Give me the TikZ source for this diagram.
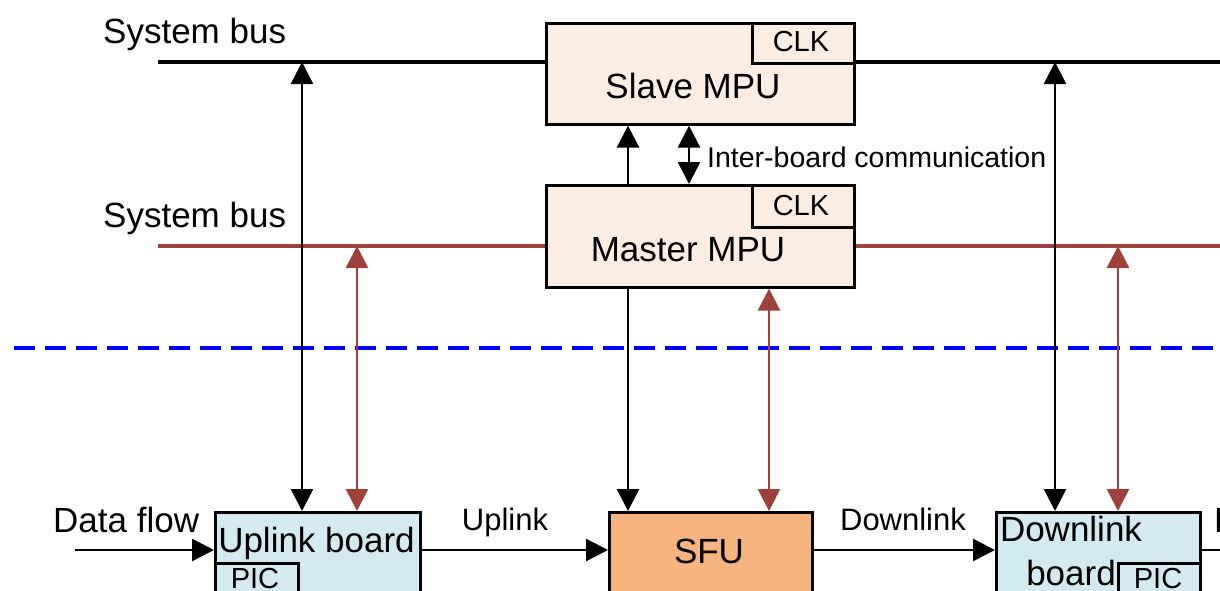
\documentclass[tikz,border=0pt]{standalone}
\usepackage{fontspec}
\setmainfont{Liberation Sans}
\usetikzlibrary{arrows.meta}
\definecolor{busred}{HTML}{A0403A}
\definecolor{mpufill}{HTML}{FCEDE3}
\definecolor{boardfill}{HTML}{D2EAF0}
\definecolor{sfufill}{HTML}{F8B47E}
\definecolor{sepblue}{HTML}{0000FF}
\tikzset{
  box/.style={draw=black, line width=2.6pt, inner sep=0pt, anchor=north west},
  bigtxt/.style={inner sep=0pt, font=\fontsize{35}{42}\selectfont},
  midtxt/.style={inner sep=0pt, font=\fontsize{31}{37}\selectfont},
  smalltxt/.style={inner sep=0pt, font=\fontsize{29}{35}\selectfont},
  commtxt/.style={inner sep=0pt, font=\fontsize{28.5}{34}\selectfont},
  blackbus/.style={draw=black, line width=4.2pt},
  redbus/.style={draw=busred, line width=4.2pt},
  link/.style={draw=black, line width=2.6pt},
  redlink/.style={draw=busred, line width=2.6pt},
  onetip/.style={-{Triangle[length=22pt,width=22pt]}},
  twotips/.style={{Triangle[length=22pt,width=22pt]}-{Triangle[length=22pt,width=22pt]}}
}
\begin{document}
\begin{tikzpicture}[x=1pt,y=-1pt]
\useasboundingbox (0,0) rectangle (1220,590);
\clip (0,0) rectangle (1220,590);

% bus end points and tap points
\coordinate (tbL) at (158,62);
\coordinate (tbR) at (1220,62);
\coordinate (rbL) at (158,246);
\coordinate (rbR) at (1220,246);
\coordinate (tapA) at (302,62);
\coordinate (tapB) at (357,246);
\coordinate (tapC) at (1055,62);
\coordinate (tapD) at (1118,246);
\coordinate (sepL) at (14,348);
\coordinate (sepR) at (1220,348);
\coordinate (dfin) at (75,550);
\coordinate (dfout) at (1220,550);

% processor boards
\node[box, fill=mpufill, minimum width=308pt, minimum height=101pt] (slave) at (545,22) {};
\node[box, fill=mpufill, minimum width=102pt, minimum height=40pt] (clkS) at (751,22) {};
\node[box, fill=mpufill, minimum width=308pt, minimum height=102pt] (master) at (545,184) {};
\node[box, fill=mpufill, minimum width=102pt, minimum height=42pt] (clkM) at (751,184) {};

% line cards
\node[box, fill=boardfill, minimum width=205pt, minimum height=110pt] (upl) at (214,511) {};
\node[box, fill=boardfill, minimum width=83pt, minimum height=60pt] (picU) at (214,562) {};
\node[box, fill=sfufill, minimum width=203pt, minimum height=110pt] (sfu) at (608,511) {};
\node[box, fill=boardfill, minimum width=204pt, minimum height=110pt] (dnl) at (995,511) {};
\node[box, fill=boardfill, minimum width=82pt, minimum height=60pt] (picD) at (1117,562) {};

% system buses
\draw[blackbus] (tbL) -- (slave.west |- tbL);
\draw[blackbus] (slave.east |- tbR) -- (tbR);
\draw[redbus] (rbL) -- (master.west |- rbL);
\draw[redbus] (master.east |- rbR) -- (rbR);

% separator
\draw[sepblue, line width=3.5pt, dash pattern=on 21pt off 10pt] (sepL) -- (sepR);

% bus to board connections
\draw[link, twotips] (upl.north -| tapA) -- (tapA);
\draw[redlink, twotips] (upl.north -| tapB) -- (tapB);
\draw[link, twotips] (dnl.north -| tapC) -- (tapC);
\draw[redlink, twotips] (dnl.north -| tapD) -- (tapD);

% processor connections
\draw[link, onetip] (master.north -| 628,0) -- (slave.south -| 628,0);
\draw[link, twotips] (master.north -| 689,0) -- (slave.south -| 689,0);
\draw[link, onetip] (master.south -| 628,0) -- (sfu.north -| 628,0);
\draw[redlink, twotips] (sfu.north -| 769,0) -- (master.south -| 769,0);

% data path
\draw[link, onetip] (dfin) -- (upl.west |- dfin);
\draw[link, onetip] (upl.east |- dfin) -- (sfu.west |- dfin);
\draw[link, onetip] (sfu.east |- dfin) -- (dnl.west |- dfin);
\draw[link] (dnl.east |- dfout) -- (dfout);

% labels
\node[bigtxt, anchor=base west] (sbT) at (103,43) {System bus};
\node[bigtxt, anchor=base west] (sbR) at (103,227) {System bus};
\node[bigtxt, anchor=base] (slaveT) at (693,98) {Slave MPU};
\node[bigtxt, anchor=base] (masterT) at (688,261) {Master MPU};
\node[smalltxt, anchor=base] (clkST) at (801,51) {CLK};
\node[smalltxt, anchor=base] (clkMT) at (801,215) {CLK};
\node[commtxt, anchor=base west] (comm) at (707,167) {Inter-board communication};
\node[bigtxt, anchor=base west] (dflow) at (53,532) {Data flow};
\node[bigtxt, anchor=base] (uplT) at (316.5,552) {Uplink board};
\node[smalltxt, anchor=base] (picUT) at (255,588) {PIC};
\node[midtxt, anchor=base] (upT) at (505,530) {Uplink};
\node[bigtxt, anchor=base] (sfuT) at (709,563) {SFU};
\node[midtxt, anchor=base] (dnT) at (903,530) {Downlink};
\node[bigtxt, anchor=base] (dnlT1) at (1071,541) {Downlink};
\node[bigtxt, anchor=base] (dnlT2) at (1071,585) {board};
\node[smalltxt, anchor=base] (picDT) at (1158,588) {PIC};
\node[bigtxt, anchor=base west] (dflow2) at (1214,532) {Data flow};
\end{tikzpicture}
\end{document}
